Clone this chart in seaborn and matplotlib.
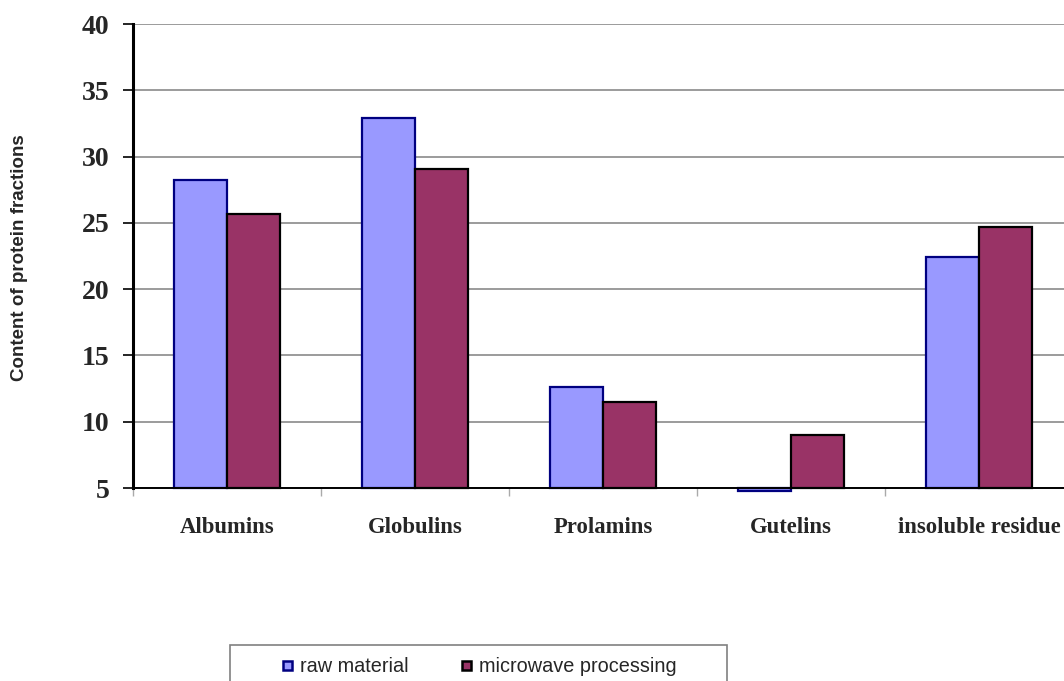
import matplotlib
matplotlib.use("Agg")
import matplotlib.pyplot as plt
import seaborn as sns
import pandas as pd
from matplotlib.patches import Patch, Rectangle

categories = ["Albumins", "Globulins", "Prolamins", "Gutelins", "insoluble residue"]
raw_material = [28.2, 32.9, 12.6, 4.8, 22.4]
microwave_processing = [25.7, 29.1, 11.5, 9.0, 24.7]
series_names = ["raw material", "microwave processing"]
y_ticks = [5, 10, 15, 20, 25, 30, 35, 40]

df = pd.DataFrame({
    "category": categories * 2,
    "value": raw_material + microwave_processing,
    "series": [series_names[0]] * len(categories) + [series_names[1]] * len(categories),
})

fill_colors = ["#9999FF", "#993366"]
edge_colors = ["#000080", "#000000"]
base = 5

sns.set_style("white")
W, H = 1064, 681
fig = plt.figure(figsize=(W / 100, H / 100), dpi=100)
ax = fig.add_axes([133 / W, (H - 488) / H, 940 / W, 464 / H])

sns.barplot(data=df, x="category", y="value", hue="series", order=categories,
            hue_order=series_names, palette=fill_colors, width=0.565, gap=0,
            saturation=1, ax=ax, legend=False)

# Bars start at the axis floor (5), like a spreadsheet column chart
for cont, ec in zip(ax.containers, edge_colors):
    for patch in cont:
        h = patch.get_height()
        patch.set_y(base)
        patch.set_height(h - base)
        patch.set_edgecolor(ec)
        patch.set_linewidth(1.6)
        patch.set_clip_on(False)
        patch.set_zorder(3)

ax.set_xlim(-0.5, len(categories) - 0.5)
ax.set_ylim(base, 40)
ax.set_yticks(y_ticks)
ax.yaxis.grid(True, color="#808080", linewidth=1.1)
ax.set_axisbelow(True)

for s in ["top", "right"]:
    ax.spines[s].set_visible(False)
ax.spines["left"].set_color("black")
ax.spines["left"].set_linewidth(2.2)
ax.spines["bottom"].set_color("black")
ax.spines["bottom"].set_linewidth(1.4)
ax.spines["left"].set_zorder(4)
ax.spines["bottom"].set_zorder(4)

# Category ticks sit between groups; labels centered on groups
ax.set_xticks([i + 0.5 for i in range(-1, len(categories))], minor=True)
ax.set_xticks(range(len(categories)))
ax.set_xticklabels(categories, fontfamily="Liberation Serif", fontweight="bold", fontsize=16.3)
ax.tick_params(axis="x", which="major", length=0, pad=21)
ax.tick_params(axis="x", which="minor", length=6, width=1, color="#aaaaaa", direction="out", bottom=True)
ax.tick_params(axis="y", length=7, width=1.2, color="black", direction="out", left=True, pad=10)
for lab in ax.get_yticklabels():
    lab.set_fontfamily("Liberation Serif")
    lab.set_fontweight("bold")
    lab.set_fontsize(20)

ax.set_xlabel("")
ax.set_ylabel("")
fig.text(20 / W, 1 - 258 / H, "Content of protein fractions", rotation=90,
         ha="center", va="center", fontfamily="Liberation Sans",
         fontweight="bold", fontsize=13.5)

# Legend box at the bottom
fig.patches.append(Rectangle((230 / W, -0.05), (727 - 230) / W, 0.05 + (H - 645) / H,
                             transform=fig.transFigure, facecolor="white",
                             edgecolor="#808080", linewidth=1.2, zorder=1))
handles = [Patch(facecolor=fc, edgecolor=ec, linewidth=1.8)
           for fc, ec in zip(fill_colors, edge_colors)]
leg = fig.legend(handles, series_names, loc="center left",
                 bbox_to_anchor=(283 / W, 1 - 667 / H),
                 ncol=2, frameon=False,
                 prop={"family": "Liberation Sans", "size": 14.3},
                 handlelength=0.45, handleheight=0.3, handletextpad=0.4,
                 columnspacing=2.7, borderpad=0, borderaxespad=0)
leg.set_zorder(2)

fig.savefig("out.png", dpi=100)
